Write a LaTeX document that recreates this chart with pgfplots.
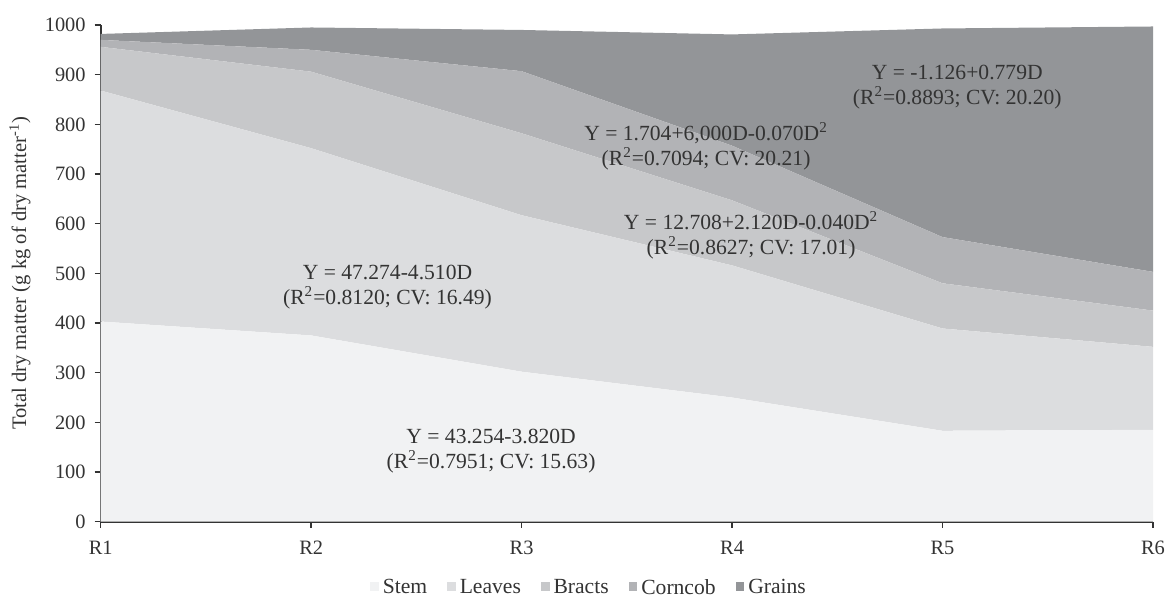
\documentclass[border=0pt]{standalone}
\usepackage{pgfplots}
\pgfplotsset{compat=1.18}
\usepackage{fontspec}
\setmainfont{Liberation Serif}
\definecolor{cStem}{HTML}{F1F2F3}
\definecolor{cLeaves}{HTML}{DCDDDF}
\definecolor{cBracts}{HTML}{C7C8CA}
\definecolor{cCorncob}{HTML}{B2B3B6}
\definecolor{cGrains}{HTML}{939598}
\definecolor{axgray}{HTML}{333333}
\tikzset{eqlabel/.style={align=center, font=\rmfamily\fontsize{10.8}{12.5}\selectfont, text=axgray}}
\begin{document}
\begin{tikzpicture}
\useasboundingbox (-50.35pt,-38.15pt) rectangle (533.15pt,260.85pt);
\begin{axis}[
  at={(0pt,0pt)}, anchor=south west,
  scale only axis,
  width=526.15pt, height=248.35pt,
  xmin=0, xmax=5, ymin=0, ymax=1000,
  xtick={0,1,2,3,4,5},
  xticklabels={R1,R2,R3,R4,R5,R6},
  ytick={0,100,...,1000},
  /pgf/number format/1000 sep={},
  axis lines*=left,
  axis line style={axgray, line width=0.9pt},
  major tick style={axgray, line width=0.7pt},
  tick align=outside,
  major tick length=3pt,
  tick label style={font=\rmfamily\fontsize{10.2}{11}\selectfont, text=axgray},
  /pgf/number format/assume math mode=true,
  yticklabel style={xshift=-1pt},
  xticklabel style={yshift=-3pt},
  ylabel style={at={(axis description cs:-0.0767,0.5)}, rotate=0, anchor=center, font=\rmfamily\fontsize{10.3}{12}\selectfont, text=axgray},
  ylabel={Total dry matter (g kg of dry matter\textsuperscript{-1})},
  stack plots=y,
  area legend,
  legend columns=5,
  legend image code/.code={\fill[#1] (0pt,-1.3pt) rectangle (4.3pt,3.2pt);},
  legend style={at={(axis description cs:0.465,-0.134)}, anchor=center, draw=none, fill=none,
    font=\rmfamily\fontsize{10.8}{12}\selectfont, text=axgray,
    /tikz/every even column/.append style={column sep=8pt}},
  clip=false,
]
\addplot[fill=cStem, draw=none] coordinates {(0,403) (1,375) (2,302) (3,250) (4,183) (5,185)} \closedcycle;
\addlegendentry{Stem}
\addplot[fill=cLeaves, draw=none] coordinates {(0,465) (1,377) (2,315) (3,266) (4,206) (5,167)} \closedcycle;
\addlegendentry{Leaves}
\addplot[fill=cBracts, draw=none] coordinates {(0,88) (1,154) (2,165) (3,131) (4,91) (5,73)} \closedcycle;
\addlegendentry{Bracts}
\addplot[fill=cCorncob, draw=none] coordinates {(0,14) (1,44) (2,125) (3,110) (4,93) (5,78)} \closedcycle;
\addlegendentry{Corncob}
\addplot[fill=cGrains, draw=none] coordinates {(0,12) (1,45) (2,83) (3,224) (4,420) (5,494)} \closedcycle;
\addlegendentry{Grains}
\end{axis}
% equation labels (text), placed in the axis frame: x = 105.23pt per stage, y = 0.24835pt per unit
\node[eqlabel] at (428.3pt,217.1pt) {Y = -1.126+0.779D\\(R\textsuperscript{2}=0.8893; CV: 20.20)};
\node[eqlabel] at (302.7pt,187.5pt) {Y = 1.704+6,000D-0.070D\textsuperscript{2}\\(R\textsuperscript{2}=0.7094; CV: 20.21)};
\node[eqlabel] at (325.2pt,143.0pt) {Y = 12.708+2.120D-0.040D\textsuperscript{2}\\(R\textsuperscript{2}=0.8627; CV: 17.01)};
\node[eqlabel] at (143.4pt,117.1pt) {Y = 47.274-4.510D\\(R\textsuperscript{2}=0.8120; CV: 16.49)};
\node[eqlabel] at (195.2pt,35.5pt) {Y = 43.254-3.820D\\(R\textsuperscript{2}=0.7951; CV: 15.63)};
\end{tikzpicture}
\end{document}
